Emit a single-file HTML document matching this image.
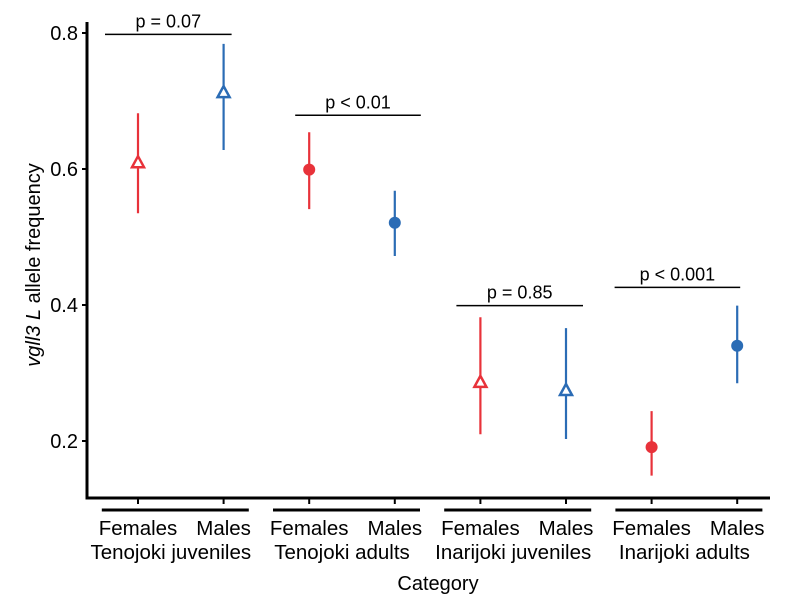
<!DOCTYPE html>
<html><head><meta charset="utf-8"><style>
body{margin:0;background:#fff}
svg{display:block;font-family:"Liberation Sans",Arial,sans-serif}
</style></head><body>
<svg id="chart" width="800" height="608">
<g id="plot"></g>
</svg>
<script>
const categories=["Females","Males","Females","Males","Females","Males","Females","Males"];
const groups=["Tenojoki juveniles","Tenojoki adults","Inarijoki juveniles","Inarijoki adults"];
const means=[0.610,0.713,0.599,0.521,0.287,0.275,0.191,0.340];
const lows=[0.535,0.628,0.541,0.472,0.210,0.203,0.149,0.285];
const highs=[0.682,0.784,0.654,0.568,0.382,0.366,0.244,0.399];
const shapes=["tri","tri","circle","circle","tri","tri","circle","circle"];
const yTicks=[0.2,0.4,0.6,0.8];
const pLabels=["p = 0.07","p < 0.01","p = 0.85","p < 0.001"];
const pLevels=[0.798,0.679,0.399,0.426];

const NS="http://www.w3.org/2000/svg";
const g=document.getElementById('plot');
function y(v){return 441-(v-0.2)*680;}
function x(i){return 138+i*85.6;}
function el(t,a,txt){const e=document.createElementNS(NS,t);for(const k in a)e.setAttribute(k,a[k]);if(txt!==undefined)e.textContent=txt;g.appendChild(e);return e;}
const red="#e8323a",blue="#2b6cb5";
const bracketOff=[[-33,8],[-14,26],[-24,17],[-37,3]];
let e=el('line',{x1:87,y1:22,x2:87,y2:499,stroke:'#000','stroke-width':3});

e=el('line',{x1:85.5,y1:498,x2:770,y2:498,stroke:'#000','stroke-width':3});

yTicks.forEach(t=>{
 let tk=el('line',{x1:82,y1:y(t),x2:87,y2:y(t),stroke:'#000','stroke-width':2});
 
 let l=el('text',{x:78,y:y(t)+7,'text-anchor':'end','font-size':20},t.toFixed(1));
 
});
let yt=el('text',{x:0,y:0,'font-size':20,transform:'translate(40,265) rotate(-90)','text-anchor':'middle'});
yt.innerHTML='<tspan font-style="italic">vgll3 L</tspan> allele frequency';

categories.forEach((c,i)=>{
 let tk=el('line',{x1:x(i),y1:498,x2:x(i),y2:504,stroke:'#000','stroke-width':2});
 
 let l=el('text',{x:x(i),y:535,'text-anchor':'middle','font-size':20.5},c);
 
});
groups.forEach((gn,k)=>{
 const cx=(x(2*k)+x(2*k+1))/2;
 let ln=el('line',{x1:cx-79,y1:510,x2:cx+68,y2:510,stroke:'#000','stroke-width':3});
 
 let l=el('text',{x:cx-10,y:559,'text-anchor':'middle','font-size':20.5},gn);
 
 const x1=x(2*k)+bracketOff[k][0],x2=x(2*k+1)+bracketOff[k][1];
 let b=el('line',{x1:x1,y1:y(pLevels[k]),x2:x2,y2:y(pLevels[k]),stroke:'#000','stroke-width':1.5});
 
 let p=el('text',{x:(x1+x2)/2,y:y(pLevels[k])-7,'text-anchor':'middle','font-size':18},pLabels[k]);
 
});
let xt=el('text',{x:438,y:590,'text-anchor':'middle','font-size':20},'Category');

means.forEach((m,i)=>{
 const col=i%2===0?red:blue;
 let eb=el('line',{x1:x(i),y1:y(lows[i]),x2:x(i),y2:y(highs[i]),stroke:col,'stroke-width':2.2});
 
 let mk;
 if(shapes[i]==='circle'){
  mk=el('circle',{cx:x(i),cy:y(m),r:6,fill:col});
 }else{
  const cx=x(i),cy=y(m);
  mk=el('polygon',{points:`${cx},${cy-6} ${cx-6},${cy+5} ${cx+6},${cy+5}`,fill:'#fff',stroke:col,'stroke-width':2.5});
 }
 
});
</script>
</body></html>
